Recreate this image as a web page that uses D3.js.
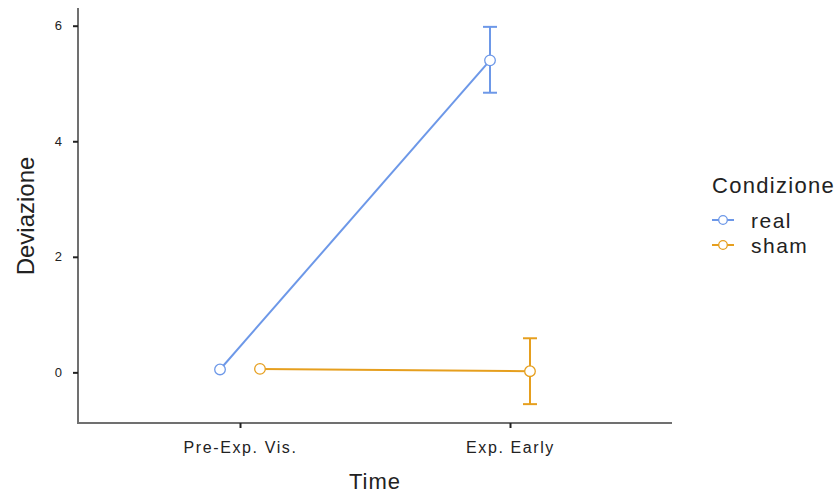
<!DOCTYPE html>
<html>
<head>
<meta charset="utf-8">
<script src="https://cdn.jsdelivr.net/npm/d3@7"></script>
<style>
  body { margin: 0; background: #fff; }
  svg text { font-family: "Liberation Sans", Arial, sans-serif; }
</style>
</head>
<body>
<div id="chart"></div>
<script>
// data
var timeLevels = ["Pre-Exp. Vis.", "Exp. Early"];
var groups = ["real", "sham"];
var groupColors = ["#6d98e8", "#e69f1e"];
var realMean = [0.05, 5.40];
var realLow = [0.05, 4.84];
var realHigh = [0.05, 5.98];
var shamMean = [0.06, 0.02];
var shamLow = [0.06, -0.55];
var shamHigh = [0.06, 0.59];
var yTicks = [0, 2, 4, 6];

var series = [
  { name: groups[0], mean: realMean, low: realLow, high: realHigh, color: groupColors[0], dodge: -1 },
  { name: groups[1], mean: shamMean, low: shamLow, high: shamHigh, color: groupColors[1], dodge: 1 }
];

var margin = { top: 8, right: 168, bottom: 71, left: 78 },
    width = 840 - margin.left - margin.right,
    height = 494 - margin.top - margin.bottom;

var svg = d3.select("#chart")
    .append("svg")
    .attr("width", 840)
    .attr("height", 494)
    .append("g")
    .attr("transform", "translate(" + margin.left + "," + margin.top + ")");

// discrete x like ggplot: positions 1..n, expanded 0.6 each side
var x = d3.scaleLinear()
    .domain([0.4, timeLevels.length + 0.6])
    .range([0, width]);
var dodgeW = 0.074;

var allLow = realLow.concat(shamLow), allHigh = realHigh.concat(shamHigh);
var yMin = d3.min(allLow), yMax = d3.max(allHigh), pad = (yMax - yMin) * 0.05;
var y = d3.scaleLinear()
    .domain([yMin - pad, yMax + pad])
    .range([height, 0]);

// axes
var xAxis = svg.append("g")
    .attr("transform", "translate(0," + height + ")")
    .call(d3.axisBottom(x).tickValues([1, 2]).tickFormat(function(d) { return timeLevels[d - 1]; }).tickSizeOuter(0).tickSize(5).tickPadding(14));
var yAxis = svg.append("g")
    .call(d3.axisLeft(y).tickValues(yTicks).tickSizeOuter(0).tickSize(5).tickPadding(10));

[xAxis, yAxis].forEach(function(a) {
  a.select(".domain").attr("stroke", "#707070").attr("stroke-width", 2);
  a.selectAll(".tick line").attr("stroke", "#222").attr("stroke-width", 2);
  a.selectAll(".tick text").attr("fill", "#222")
    .style("font-family", "'Liberation Sans', Arial, sans-serif");
});
xAxis.selectAll(".tick text").attr("font-size", "16px").style("letter-spacing", "1.6px");
yAxis.selectAll(".tick text").attr("font-size", "13px").style("letter-spacing", "1px");
xAxis.select(".domain").attr("d", "M-1,0H" + width);
yAxis.select(".domain").attr("d", "M0,0V" + (height + 1));

// lines, error bars, points
series.forEach(function(s) {
  var pts = s.mean.map(function(m, i) {
    return { x: x(i + 1 + s.dodge * dodgeW), m: m, lo: s.low[i], hi: s.high[i] };
  });

  svg.append("path")
      .datum(pts)
      .attr("fill", "none")
      .attr("stroke", s.color)
      .attr("stroke-width", 2)
      .attr("d", d3.line().x(function(d) { return d.x; }).y(function(d) { return y(d.m); }));

  var eb = svg.append("g").selectAll("g")
      .data(pts.filter(function(d) { return d.hi > d.lo; }))
      .enter().append("g")
      .attr("stroke", s.color)
      .attr("stroke-width", 2);
  eb.append("line")
      .attr("x1", function(d) { return d.x; }).attr("x2", function(d) { return d.x; })
      .attr("y1", function(d) { return y(d.lo); }).attr("y2", function(d) { return y(d.hi); });
  eb.append("line")
      .attr("x1", function(d) { return d.x - 7; }).attr("x2", function(d) { return d.x + 7; })
      .attr("y1", function(d) { return y(d.hi); }).attr("y2", function(d) { return y(d.hi); });
  eb.append("line")
      .attr("x1", function(d) { return d.x - 7; }).attr("x2", function(d) { return d.x + 7; })
      .attr("y1", function(d) { return y(d.lo); }).attr("y2", function(d) { return y(d.lo); });

  svg.append("g").selectAll("circle")
      .data(pts)
      .enter().append("circle")
      .attr("cx", function(d) { return d.x; })
      .attr("cy", function(d) { return y(d.m); })
      .attr("r", 5.3)
      .attr("fill", "#fff")
      .attr("stroke", s.color)
      .attr("stroke-width", 1.3);
});

// axis titles
svg.append("text")
    .attr("x", width / 2)
    .attr("y", 489 - margin.top)
    .attr("text-anchor", "middle")
    .attr("font-size", "22px")
    .style("letter-spacing", "1px")
    .attr("fill", "#222")
    .text("Time");

svg.append("text")
    .attr("transform", "rotate(-90)")
    .attr("x", -(216 - margin.top))
    .attr("y", 34 - margin.left)
    .attr("text-anchor", "middle")
    .attr("font-size", "24px")
    .attr("fill", "#222")
    .text("Deviazione");

// legend
var legend = svg.append("g")
    .attr("transform", "translate(" + (712 - margin.left) + "," + (-margin.top) + ")");
legend.append("text")
    .attr("x", 0)
    .attr("y", 193)
    .attr("font-size", "22px")
    .style("letter-spacing", "1.3px")
    .attr("fill", "#222")
    .text("Condizione");
var item = legend.selectAll(".item")
    .data(series)
    .enter().append("g")
    .attr("transform", function(d, i) { return "translate(0," + (220 + i * 25) + ")"; });
item.append("line")
    .attr("x1", 0).attr("x2", 22)
    .attr("stroke", function(d) { return d.color; })
    .attr("stroke-width", 2);
item.append("circle")
    .attr("cx", 11).attr("r", 4.3)
    .attr("fill", "#fff")
    .attr("stroke", function(d) { return d.color; })
    .attr("stroke-width", 1.3);
item.append("text")
    .attr("x", 39)
    .attr("y", 8)
    .attr("font-size", "21px")
    .style("letter-spacing", "1.5px")
    .attr("fill", "#222")
    .text(function(d) { return d.name; });
</script>
</body>
</html>
